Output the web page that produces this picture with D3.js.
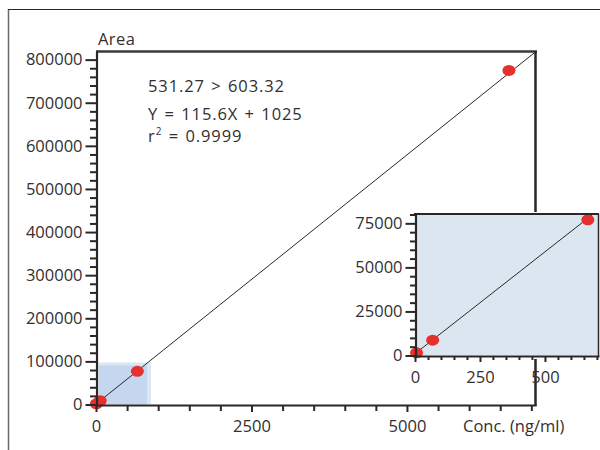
<!DOCTYPE html>
<html>
<head>
<meta charset="utf-8">
<script src="https://cdn.jsdelivr.net/npm/d3@7"></script>
<style>
  html, body { margin: 0; padding: 0; background: #fff; }
  svg { display: block; font-family: "Open Sans", "Noto Sans", sans-serif; }
</style>
</head>
<body>
<svg id="chart" width="600" height="450"></svg>
<script>
// ---- data ----
const concentrations = [6, 68, 665, 6640];          // ng/ml
const areas = [1500, 8700, 77000, 775000];          // peak area
const slope = 115.6;
const intercept = 1025;
const annotationLines = ["531.27 > 603.32", "Y = 115.6X + 1025"];
const r2Text = "0.9999";
const mainXTicks = [0, 2500, 5000];
const mainYTicks = [0, 100000, 200000, 300000, 400000, 500000, 600000, 700000, 800000];
const insetXTicks = [0, 250, 500];
const insetYTicks = [0, 25000, 50000, 75000];
const zoomRegion = { x: [0, 885], y: [0, 97500] };
const mainDomain = { x: [0, 7075], y: [0, 820000] };
const insetDomain = { x: [0, 708], y: [0, 80300] };

const svg = d3.select("#chart");
const ink = "#2b2627";
const textCol = "#332f30";
const red = "#e5312d";
const fontSize = 16.5;

// outer frame
svg.append("line").attr("x1", 8.5).attr("x2", 8.5).attr("y1", 9).attr("y2", 450)
  .attr("stroke", "#6e6a6b").attr("stroke-width", 1.5);
svg.append("line").attr("x1", 8).attr("x2", 600).attr("y1", 9.5).attr("y2", 9.5)
  .attr("stroke", ink).attr("stroke-width", 1.2);

// ---- main plot ----
const x = d3.scaleLinear().domain(mainDomain.x).range([96, 536]);
const y = d3.scaleLinear().domain(mainDomain.y).range([404.5, 51]);

// zoom region highlight
const zr = svg.append("g");
zr.append("rect")
  .attr("x", x(zoomRegion.x[0]) + 1).attr("y", y(zoomRegion.y[1]))
  .attr("width", x(zoomRegion.x[1]) - x(zoomRegion.x[0]) - 1)
  .attr("height", y(zoomRegion.y[0]) - y(zoomRegion.y[1]))
  .attr("fill", "#dde7f3");
zr.append("rect")
  .attr("x", x(zoomRegion.x[0]) + 3).attr("y", y(zoomRegion.y[1]) + 3)
  .attr("width", x(zoomRegion.x[1]) - x(zoomRegion.x[0]) - 7)
  .attr("height", y(zoomRegion.y[0]) - y(zoomRegion.y[1]) - 3)
  .attr("fill", "#c5d7ee");

// regression line
svg.append("clipPath").attr("id", "clipMain").append("rect")
  .attr("x", 96).attr("y", 51).attr("width", 440).attr("height", 354);
svg.append("line")
  .attr("clip-path", "url(#clipMain)")
  .attr("x1", x(0)).attr("y1", y(intercept))
  .attr("x2", x(mainDomain.x[1])).attr("y2", y(slope * mainDomain.x[1] + intercept))
  .attr("stroke", ink).attr("stroke-width", 1);

// points
svg.append("g").selectAll("ellipse").data(concentrations).join("ellipse")
  .attr("cx", (d) => x(d)).attr("cy", (d, i) => y(areas[i]))
  .attr("rx", 6.5).attr("ry", 5.5).attr("fill", red);

// frame top and right
svg.append("line").attr("x1", 96).attr("x2", 537).attr("y1", 51.5).attr("y2", 51.5)
  .attr("stroke", "#3d3838").attr("stroke-width", 2.5);
svg.append("line").attr("x1", 535.5).attr("x2", 535.5).attr("y1", 51).attr("y2", 406)
  .attr("stroke", ink).attr("stroke-width", 2.5);

function styleAxis(g) {
  g.select(".domain").attr("stroke", ink).attr("stroke-width", 2.2);
  g.selectAll(".tick line").attr("stroke", ink).attr("stroke-width", 2);
  g.selectAll(".tick text").attr("fill", textCol).attr("font-size", fontSize)
    .attr("font-family", '"Open Sans", "Noto Sans", sans-serif');
}

// y axis main - minor ticks
const yMinor = d3.range(mainDomain.y[0], mainDomain.y[1], 20000).filter(v => v % 100000 !== 0);
svg.append("g").attr("transform", "translate(96,0)")
  .call(d3.axisLeft(y).tickValues(yMinor).tickSize(6).tickFormat("").tickSizeOuter(0))
  .call(g => { styleAxis(g); g.select(".domain").remove(); });
svg.append("g").attr("transform", "translate(96.5,0)")
  .call(d3.axisLeft(y).tickValues(mainYTicks).tickSize(11).tickPadding(3).tickFormat(d3.format("d")).tickSizeOuter(0))
  .call(styleAxis);

// x axis main
const xMinor = d3.range(0, mainDomain.x[1], 500).filter(v => v % 2500 !== 0);
svg.append("g").attr("transform", "translate(0,405)")
  .call(d3.axisBottom(x).tickValues(xMinor).tickSize(6).tickFormat("").tickSizeOuter(0))
  .call(g => { styleAxis(g); g.select(".domain").remove(); });
svg.append("g").attr("transform", "translate(0,405)")
  .call(d3.axisBottom(x).tickValues(mainXTicks).tickSize(7).tickPadding(8).tickFormat(d3.format("d")).tickSizeOuter(0))
  .call(styleAxis);

// axis titles
svg.append("text").attr("x", 98).attr("y", 45).text("Area")
  .attr("fill", textCol).attr("font-size", fontSize).attr("letter-spacing", 0.4);
svg.append("text").attr("x", 463).attr("y", 432).text("Conc. (ng/ml)")
  .attr("fill", textCol).attr("font-size", fontSize);

// annotation
const ann = svg.append("g").attr("fill", textCol).attr("font-size", fontSize)
  .attr("letter-spacing", 0.9).attr("word-spacing", 1.2);
ann.append("text").attr("x", 148).attr("y", 92).text(annotationLines[0]);
ann.append("text").attr("x", 148).attr("y", 119.5).text(annotationLines[1]);
const r2 = ann.append("text").attr("x", 148).attr("y", 141.5);
r2.append("tspan").text("r");
r2.append("tspan").attr("font-size", 10).attr("dy", -7).text("2");
r2.append("tspan").attr("dy", 7).text(" = " + r2Text);

// ---- inset ----
svg.append("rect").attr("x", 530).attr("y", 212).attr("width", 70).attr("height", 147).attr("fill", "#fff");
const ix = d3.scaleLinear().domain(insetDomain.x).range([415, 599]);
const iy = d3.scaleLinear().domain(insetDomain.y).range([355.5, 214]);

svg.append("rect").attr("x", 415).attr("y", 214).attr("width", 184).attr("height", 141.5)
  .attr("fill", "#dce6f1");

svg.append("clipPath").attr("id", "clipInset").append("rect")
  .attr("x", 415).attr("y", 214).attr("width", 184).attr("height", 142);
svg.append("line")
  .attr("clip-path", "url(#clipInset)")
  .attr("x1", ix(0)).attr("y1", iy(intercept))
  .attr("x2", ix(insetDomain.x[1])).attr("y2", iy(slope * insetDomain.x[1] + intercept))
  .attr("stroke", ink).attr("stroke-width", 1);

const insetIdx = concentrations.map((d, i) => i).filter(i => concentrations[i] <= insetDomain.x[1]);
svg.append("g").selectAll("ellipse").data(insetIdx).join("ellipse")
  .attr("cx", i => ix(concentrations[i])).attr("cy", i => iy(areas[i]))
  .attr("rx", 6.5).attr("ry", 5.5).attr("fill", red);

// inset border top/right
svg.append("line").attr("x1", 414).attr("x2", 599).attr("y1", 214).attr("y2", 214)
  .attr("stroke", ink).attr("stroke-width", 2);
svg.append("line").attr("x1", 598.5).attr("x2", 598.5).attr("y1", 214).attr("y2", 356)
  .attr("stroke", ink).attr("stroke-width", 1.5);

const iyMinor = d3.range(0, insetDomain.y[1], 5000).filter(v => v % 25000 !== 0);
svg.append("g").attr("transform", "translate(415,0)")
  .call(d3.axisLeft(iy).tickValues(iyMinor).tickSize(5).tickFormat("").tickSizeOuter(0))
  .call(g => { styleAxis(g); g.select(".domain").remove(); });
svg.append("g").attr("transform", "translate(415.5,0)")
  .call(d3.axisLeft(iy).tickValues(insetYTicks).tickSize(10).tickPadding(3).tickFormat(d3.format("d")).tickSizeOuter(0))
  .call(styleAxis);

const ixMinor = d3.range(0, insetDomain.x[1], 50).filter(v => v % 250 !== 0);
svg.append("g").attr("transform", "translate(0,356)")
  .call(d3.axisBottom(ix).tickValues(ixMinor).tickSize(4).tickFormat("").tickSizeOuter(0))
  .call(g => { styleAxis(g); g.select(".domain").remove(); });
svg.append("g").attr("transform", "translate(0,356)")
  .call(d3.axisBottom(ix).tickValues(insetXTicks).tickSize(6).tickPadding(9).tickFormat(d3.format("d")).tickSizeOuter(0))
  .call(styleAxis);
</script>
</body>
</html>
